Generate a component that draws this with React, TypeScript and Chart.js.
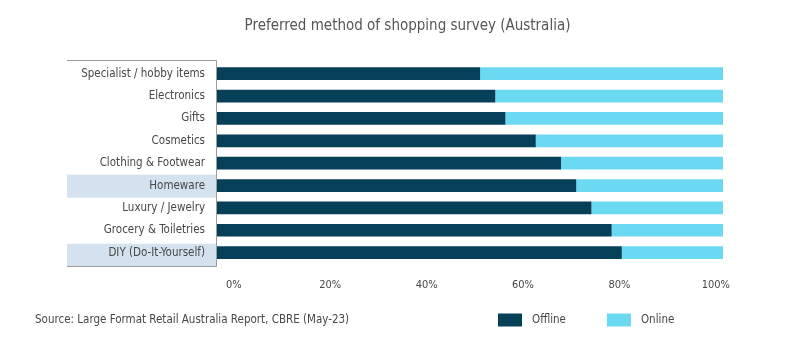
import React, { useEffect, useRef } from "react";
import { Chart, registerables } from "chart.js";

Chart.register(...registerables);

const chartTitle = "Preferred method of shopping survey (Australia)";
const sourceNote = "Source: Large Format Retail Australia Report, CBRE (May-23)";
const categories = [
  "Specialist / hobby items",
  "Electronics",
  "Gifts",
  "Cosmetics",
  "Clothing & Footwear",
  "Homeware",
  "Luxury / Jewelry",
  "Grocery & Toiletries",
  "DIY (Do-It-Yourself)",
];
const offlineValues = [52, 55, 57, 63, 68, 71, 74, 78, 80];
const onlineValues = [48, 45, 43, 37, 32, 29, 26, 22, 20];
const highlightedCategories = ["Homeware", "DIY (Do-It-Yourself)"];
const tickValues = [0, 20, 40, 60, 80, 100];
const seriesNames = ["Offline", "Online"];

const FONT = "'Liberation Sans Narrow', 'DejaVu Sans Condensed', 'Roboto', sans-serif";
const DARK = "#053f58";
const LIGHT = "#6cd9f2";
const TEXT = "#474747";

const decorPlugin = {
  id: "decor",
  beforeDraw(chart: any) {
    const { ctx, chartArea } = chart;
    const top = chartArea.top - 3;
    const bottom = chartArea.bottom + 3;
    const left = 67;
    const rowH = (bottom - top) / categories.length;
    ctx.save();
    ctx.fillStyle = "#d3e2ee";
    categories.forEach((c, i) => {
      if (highlightedCategories.includes(c)) {
        ctx.fillRect(left, top + i * rowH, chartArea.left - left, rowH);
      }
    });
    // title
    ctx.font = `15px ${FONT}`;
    ctx.fillStyle = "#555555";
    ctx.textAlign = "center";
    ctx.textBaseline = "middle";
    ctx.fillText(chartTitle, 407.5, 26.5);
    ctx.restore();
  },
  afterDatasetsDraw(chart: any) {
    const { ctx, chartArea } = chart;
    const top = Math.round(chartArea.top - 3) + 0.5;
    const bottom = Math.round(chartArea.bottom + 3) - 0.5;
    const left = 67;
    const right = Math.round(chartArea.left) - 0.5;
    ctx.save();
    ctx.strokeStyle = "#9d9d9d";
    ctx.lineWidth = 1;
    ctx.beginPath();
    ctx.moveTo(left, top);
    ctx.lineTo(right, top);
    ctx.lineTo(right, bottom);
    ctx.lineTo(left, bottom);
    ctx.stroke();
    ctx.restore();
  },
  afterDraw(chart: any) {
    const { ctx } = chart;
    const yc = 320;
    ctx.save();
    ctx.font = `11.5px ${FONT}`;
    ctx.fillStyle = TEXT;
    ctx.textAlign = "left";
    ctx.textBaseline = "middle";
    ctx.fillText(sourceNote, 35, yc);
    let x = 498;
    chart.data.datasets.forEach((ds: any) => {
      ctx.fillStyle = ds.backgroundColor;
      ctx.fillRect(x, yc - 6.5, 24, 13);
      ctx.fillStyle = TEXT;
      ctx.fillText(ds.label, x + 34, yc);
      x += 34 + ctx.measureText(ds.label).width + 41;
    });
    ctx.restore();
  },
};

export default function App() {
  const ref = useRef<HTMLCanvasElement>(null);
  useEffect(() => {
    if (!ref.current) return;
    const chart = new Chart(ref.current, {
      type: "bar",
      data: {
        labels: categories,
        datasets: [
          { label: seriesNames[0], data: offlineValues, backgroundColor: DARK, xAxisID: "x", borderWidth: 0 },
          { label: seriesNames[1], data: onlineValues, backgroundColor: LIGHT, xAxisID: "x", borderWidth: 0 },
        ],
      },
      options: {
        indexAxis: "y",
        animation: false,
        responsive: false,
        devicePixelRatio: 1,
        layout: { padding: { left: 40, right: 77, top: 62.5, bottom: 47 } },
        datasets: { bar: { categoryPercentage: 1, barPercentage: 0.57 } },
        plugins: {
          legend: { display: false },
          tooltip: { enabled: false },
          title: { display: false },
        },
        scales: {
          x: { type: "linear", stacked: true, min: 0, max: 100, display: false },
          x2: {
            type: "linear",
            position: "bottom",
            min: -3.5,
            max: 101.5,
            grid: { display: false, drawTicks: false },
            border: { display: false },
            afterBuildTicks: (s: any) => {
              s.ticks = tickValues.map((v) => ({ value: v }));
            },
            ticks: {
              padding: 15,
              color: TEXT,
              font: { family: FONT, size: 11 },
              callback: (v: any) => `${v}%`,
            },
          },
          y: {
            type: "category",
            stacked: true,
            grid: { display: false, drawTicks: false },
            border: { display: false },
            ticks: { padding: 12, color: TEXT, font: { family: FONT, size: 11.5 } },
            afterFit: (s: any) => {
              s.width = 177;
            },
          },
        },
      },
      plugins: [decorPlugin],
    } as any);
    return () => chart.destroy();
  }, []);
  return (
    <div style={{ position: "fixed", left: 0, top: 0, width: 800, height: 354, background: "#fff" }}>
      <canvas ref={ref} width={800} height={354} />
    </div>
  );
}
